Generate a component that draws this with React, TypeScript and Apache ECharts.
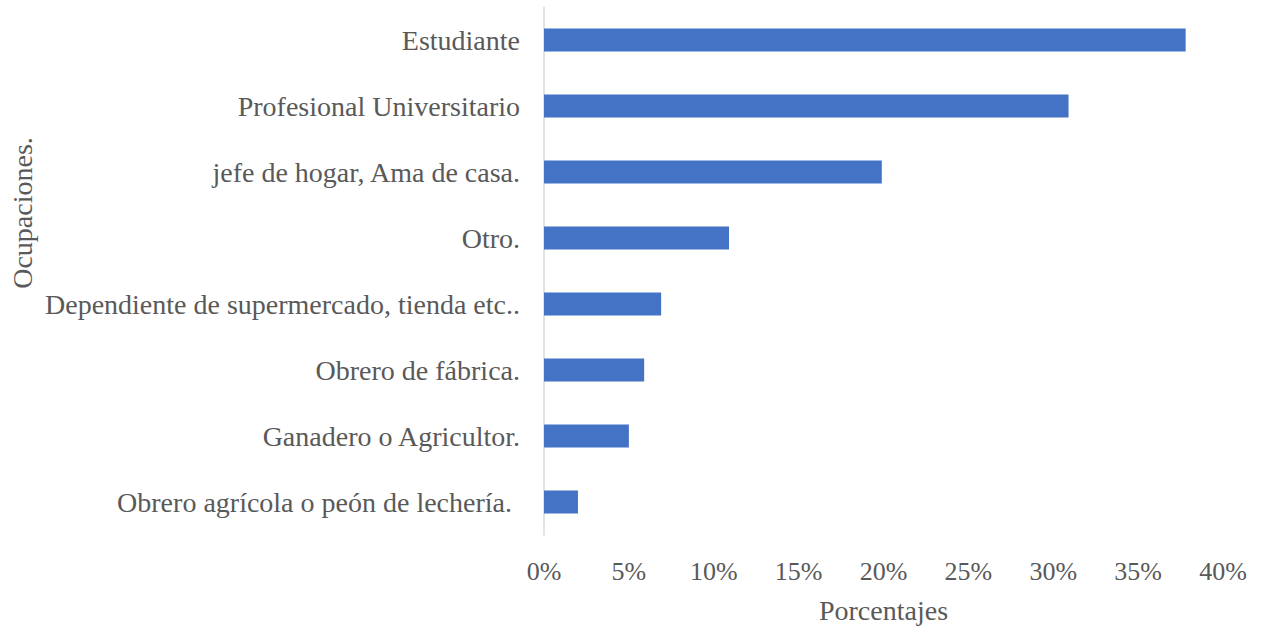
import React, { useEffect, useRef } from "react";
import * as echarts from "echarts";

const categories = [
  "Estudiante",
  "Profesional Universitario",
  "jefe de hogar, Ama de casa.",
  "Otro.",
  "Dependiente de supermercado, tienda etc..",
  "Obrero de fábrica.",
  "Ganadero o Agricultor.",
  "Obrero agrícola o peón de lechería.",
];
const values = [37.8, 30.9, 19.9, 10.9, 6.9, 5.9, 5.0, 2.0];
const xTicks = [0, 5, 10, 15, 20, 25, 30, 35, 40];
const xAxisTitle = "Porcentajes";
const yAxisTitle = "Ocupaciones.";

const FONT = "'Liberation Serif', 'Times New Roman', serif";
const GRAY = "#595959";

export default function App() {
  const ref = useRef<HTMLDivElement>(null);
  useEffect(() => {
    if (!ref.current) return;
    const chart = echarts.init(ref.current, null, { renderer: "svg" });
    chart.setOption({
      animation: false,
      grid: { left: 544, right: 38, top: 7, bottom: 88, containLabel: false },
      xAxis: {
        type: "value",
        min: xTicks[0],
        max: xTicks[xTicks.length - 1],
        interval: 5,
        axisLine: { show: false },
        axisTick: { show: false },
        splitLine: { show: false },
        axisLabel: {
          formatter: (v: number) => `${v}%`,
          color: GRAY,
          fontFamily: FONT,
          fontSize: 26,
          margin: 23,
        },
        name: xAxisTitle,
        nameLocation: "middle",
        nameGap: 61,
        nameTextStyle: { color: GRAY, fontFamily: FONT, fontSize: 28 },
      },
      yAxis: {
        type: "category",
        data: categories,
        inverse: true,
        axisLine: { show: true, lineStyle: { color: "#d9d9d9", width: 1.5 } },
        axisTick: { show: false },
        axisLabel: {
          color: GRAY,
          fontFamily: FONT,
          fontSize: 28,
          margin: 24,
          formatter: (v: string, i: number) =>
            i === categories.length - 1 ? `{p|${v}}` : v,
          rich: {
            p: {
              color: GRAY,
              fontFamily: FONT,
              fontSize: 28,
              padding: [0, 8, 0, 0],
            },
          },
        },
      },
      graphic: [
        {
          type: "text",
          x: 22,
          y: 213,
          rotation: Math.PI / 2,
          style: {
            text: yAxisTitle,
            fill: GRAY,
            font: `28px ${FONT}`,
            align: "center",
            verticalAlign: "middle",
          },
        },
      ],
      series: [
        {
          type: "bar",
          data: values,
          barWidth: 23,
          itemStyle: { color: "#4472C4" },
        },
      ],
    });
    return () => chart.dispose();
  }, []);
  return (
    <div
      ref={ref}
      style={{ position: "fixed", left: 0, top: 0, width: 1261, height: 629, background: "#fff" }}
    />
  );
}
